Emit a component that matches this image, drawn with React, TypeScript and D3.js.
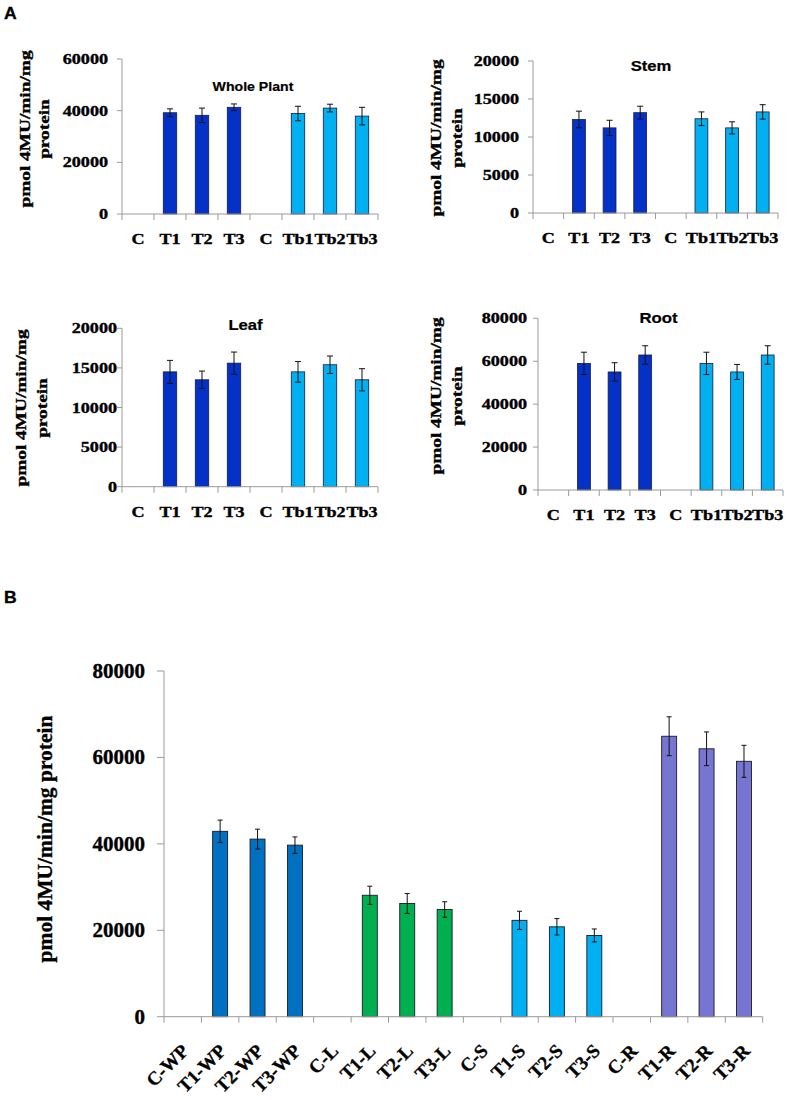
import React from "react";
import * as d3 from "d3";

// ---------- Data ----------
const catsA = ["C", "T1", "T2", "T3", "C", "Tb1", "Tb2", "Tb3"];
const seriesA = ["T", "T", "T", "T", "Tb", "Tb", "Tb", "Tb"];

const wholePlantMean = [0, 39200, 38200, 41300, 0, 38900, 41000, 37900];
const wholePlantErr = [0, 1500, 2800, 1300, 0, 2800, 1500, 3400];
const stemMean = [0, 12300, 11200, 13200, 0, 12400, 11200, 13300];
const stemErr = [0, 1100, 1000, 850, 0, 900, 800, 950];
const leafMean = [0, 14500, 13500, 15600, 0, 14500, 15400, 13500];
const leafErr = [0, 1450, 1100, 1400, 0, 1300, 1100, 1400];
const rootMean = [0, 59000, 55000, 62900, 0, 59000, 55000, 62900];
const rootErr = [0, 5200, 4300, 4300, 0, 5200, 3500, 4300];

const ticksWhole = [0, 20000, 40000, 60000];
const ticksStem = [0, 5000, 10000, 15000, 20000];
const ticksLeaf = [0, 5000, 10000, 15000, 20000];
const ticksRoot = [0, 20000, 40000, 60000, 80000];

const catsB = [
  "C-WP", "T1-WP", "T2-WP", "T3-WP",
  "C-L", "T1-L", "T2-L", "T3-L",
  "C-S", "T1-S", "T2-S", "T3-S",
  "C-R", "T1-R", "T2-R", "T3-R",
];
const groupB = ["WP", "WP", "WP", "WP", "L", "L", "L", "L", "S", "S", "S", "S", "R", "R", "R", "R"];
const meanB = [0, 42900, 41100, 39700, 0, 28100, 26200, 24800, 0, 22300, 20800, 18800, 0, 64900, 62000, 59100];
const errB = [0, 2600, 2300, 1900, 0, 2100, 2300, 1800, 0, 2100, 1900, 1500, 0, 4500, 3900, 3700];
const ticksB = [0, 20000, 40000, 60000, 80000];

const yTitleLines = ["pmol 4MU/min/mg", "protein"];
const yTitleB = "pmol 4MU/min/mg protein";

// ---------- Styles ----------
const colorA: Record<string, string> = { T: "#0432C8", Tb: "#00B0F0" };
const colorB: Record<string, string> = { WP: "#0070C0", L: "#00B050", S: "#00B0F0", R: "#7676D2" };
const AXIS = "#9a9a9a";
const SERIF = "'Liberation Serif', 'Times New Roman', serif";
const SANS = "'Liberation Sans', Arial, sans-serif";

type PanelCfg = {
  title: string;
  mean: number[];
  err: number[];
  ticks: number[];
  x0: number; x1: number; yTop: number; yBot: number;
  labelRight: number;
  titleX: number; titleY: number; titleSize: number; titleSx: number;
  yt1x: number; yt2x: number; ytY: number;
  xLabY: number;
};

const panels: PanelCfg[] = [
  { title: "Whole Plant", mean: wholePlantMean, err: wholePlantErr, ticks: ticksWhole,
    x0: 122, x1: 378, yTop: 59, yBot: 214, labelRight: 108,
    titleX: 253, titleY: 91, titleSize: 12.5, titleSx: 1.13,
    yt1x: 30, yt2x: 49, ytY: 129, xLabY: 244 },
  { title: "Stem", mean: stemMean, err: stemErr, ticks: ticksStem,
    x0: 533, x1: 778, yTop: 61, yBot: 213, labelRight: 519,
    titleX: 651, titleY: 71, titleSize: 14.5, titleSx: 1.15,
    yt1x: 441, yt2x: 462, ytY: 138, xLabY: 243 },
  { title: "Leaf", mean: leafMean, err: leafErr, ticks: ticksLeaf,
    x0: 122, x1: 378, yTop: 328.3, yBot: 486.7, labelRight: 117,
    titleX: 245.5, titleY: 330, titleSize: 14.5, titleSx: 1.15,
    yt1x: 26, yt2x: 47, ytY: 408, xLabY: 517 },
  { title: "Root", mean: rootMean, err: rootErr, ticks: ticksRoot,
    x0: 538, x1: 783, yTop: 318.3, yBot: 490, labelRight: 527,
    titleX: 658.5, titleY: 323, titleSize: 15, titleSx: 1.12,
    yt1x: 441, yt2x: 462, ytY: 396, xLabY: 520 },
];

function STxt(props: {
  x: number; y: number; sx?: number; rot?: number; size: number; family?: string;
  anchor?: string; heavy?: number; children: React.ReactNode;
}) {
  const { x, y, sx = 1, rot = 0, size, family = SERIF, anchor = "middle", heavy = 0.35, children } = props;
  return (
    <text
      transform={`translate(${x},${y}) rotate(${rot}) scale(${sx},1)`}
      fontFamily={family}
      fontWeight="bold"
      fontSize={size}
      textAnchor={anchor}
      fill="#000"
      stroke="#000"
      strokeWidth={heavy}
    >
      {children}
    </text>
  );
}

function PanelA({ cfg }: { cfg: PanelCfg }) {
  const idx = catsA.map((_, i) => String(i));
  const x = d3.scaleBand<string>().domain(idx).range([cfg.x0, cfg.x1]).paddingInner(0).paddingOuter(0);
  const y = d3.scaleLinear().domain([0, cfg.ticks[cfg.ticks.length - 1]]).range([cfg.yBot, cfg.yTop]);
  const bw = x.bandwidth() * 0.42;
  const boundaries = d3.range(catsA.length + 1).map((i) => cfg.x0 + i * x.bandwidth());
  return (
    <g>
      {catsA.map((c, i) => {
        const v = cfg.mean[i];
        if (!v) return null;
        const cx = (x(String(i)) as number) + x.bandwidth() / 2;
        return (
          <rect key={"b" + i} x={cx - bw / 2} y={y(v)} width={bw} height={y(0) - y(v)}
            fill={colorA[seriesA[i]]} stroke="#1b1b3a" strokeWidth={0.8} />
        );
      })}
      {catsA.map((c, i) => {
        const v = cfg.mean[i];
        if (!v) return null;
        const e = cfg.err[i];
        const cx = (x(String(i)) as number) + x.bandwidth() / 2;
        return (
          <g key={"e" + i} stroke="#111" strokeWidth={1}>
            <line x1={cx} x2={cx} y1={y(v + e)} y2={y(v - e)} />
            <line x1={cx - 3} x2={cx + 3} y1={y(v + e)} y2={y(v + e)} />
            <line x1={cx - 3} x2={cx + 3} y1={y(v - e)} y2={y(v - e)} />
          </g>
        );
      })}
      <line x1={cfg.x0} x2={cfg.x0} y1={cfg.yTop} y2={cfg.yBot} stroke={AXIS} />
      <line x1={cfg.x0} x2={cfg.x1} y1={cfg.yBot} y2={cfg.yBot} stroke={AXIS} />
      {cfg.ticks.map((t) => (
        <line key={"yt" + t} x1={cfg.x0 - 5} x2={cfg.x0} y1={y(t)} y2={y(t)} stroke={AXIS} />
      ))}
      {boundaries.map((bx, i) => (
        <line key={"xt" + i} x1={bx} x2={bx} y1={cfg.yBot} y2={cfg.yBot + 6} stroke={AXIS} />
      ))}
      {cfg.ticks.map((t) => (
        <STxt key={"yl" + t} x={cfg.labelRight} y={y(t) + 5} sx={1.25} size={14.5} anchor="end">
          {String(t)}
        </STxt>
      ))}
      {catsA.map((c, i) => (
        <STxt key={"xl" + i} x={(x(String(i)) as number) + x.bandwidth() / 2} y={cfg.xLabY} sx={1.25} size={14.5}>
          {c}
        </STxt>
      ))}
      <STxt x={cfg.titleX} y={cfg.titleY} sx={cfg.titleSx} size={cfg.titleSize} family={SANS} heavy={0.2}>
        {cfg.title}
      </STxt>
      <STxt x={cfg.yt1x} y={cfg.ytY} rot={-90} sx={1.38} size={14}>{yTitleLines[0]}</STxt>
      <STxt x={cfg.yt2x} y={cfg.ytY} rot={-90} sx={1.38} size={14}>{yTitleLines[1]}</STxt>
    </g>
  );
}

function PanelB() {
  const x0 = 164, x1 = 762.7, yTop = 671, yBot = 1016.7;
  const x = d3.scaleBand<string>().domain(catsB).range([x0, x1]).paddingInner(0).paddingOuter(0);
  const y = d3.scaleLinear().domain([0, 80000]).range([yBot, yTop]);
  const bw = x.bandwidth() * 0.4;
  const boundaries = d3.range(catsB.length + 1).map((i) => x0 + i * x.bandwidth());
  return (
    <g>
      {catsB.map((c, i) => {
        const v = meanB[i];
        if (!v) return null;
        const cx = (x(c) as number) + x.bandwidth() / 2;
        return (
          <rect key={"b" + c} x={cx - bw / 2} y={y(v)} width={bw} height={y(0) - y(v)}
            fill={colorB[groupB[i]]} stroke="#1b1b2a" strokeWidth={0.9} />
        );
      })}
      {catsB.map((c, i) => {
        const v = meanB[i];
        if (!v) return null;
        const e = errB[i];
        const cx = (x(c) as number) + x.bandwidth() / 2;
        return (
          <g key={"e" + c} stroke="#111" strokeWidth={1}>
            <line x1={cx} x2={cx} y1={y(v + e)} y2={y(v - e)} />
            <line x1={cx - 2.5} x2={cx + 2.5} y1={y(v + e)} y2={y(v + e)} />
            <line x1={cx - 2.5} x2={cx + 2.5} y1={y(v - e)} y2={y(v - e)} />
          </g>
        );
      })}
      <line x1={x0} x2={x0} y1={yTop} y2={yBot} stroke={AXIS} />
      <line x1={x0} x2={x1} y1={yBot} y2={yBot} stroke={AXIS} />
      {ticksB.map((t) => (
        <line key={"yt" + t} x1={x0 - 7} x2={x0} y1={y(t)} y2={y(t)} stroke={AXIS} />
      ))}
      {boundaries.map((bx, i) => (
        <line key={"xt" + i} x1={bx} x2={bx} y1={yBot} y2={yBot + 6} stroke={AXIS} />
      ))}
      {ticksB.map((t) => (
        <STxt key={"yl" + t} x={145} y={y(t) + 7} sx={1.05} size={20} anchor="end">{String(t)}</STxt>
      ))}
      {catsB.map((c) => (
        <STxt key={"xl" + c} x={(x(c) as number) + x.bandwidth() / 2 + 7} y={1052} rot={-45} size={19} anchor="end">
          {c}
        </STxt>
      ))}
      <STxt x={52} y={839} rot={-90} size={21.5}>{yTitleB}</STxt>
    </g>
  );
}

export default function App() {
  return (
    <svg
      width={789}
      height={1100}
      viewBox="0 0 789 1100"
      style={{ position: "absolute", left: 0, top: 0, display: "block", background: "#fff" }}
    >
      <rect x={0} y={0} width={789} height={1100} fill="#fff" />
      <STxt x={4} y={19} size={16} family={SANS} anchor="start" sx={1.1} heavy={0.3}>A</STxt>
      <STxt x={4} y={603} size={16} family={SANS} anchor="start" sx={1.1} heavy={0.3}>B</STxt>
      {panels.map((p) => (
        <PanelA key={p.title} cfg={p} />
      ))}
      <PanelB />
    </svg>
  );
}
